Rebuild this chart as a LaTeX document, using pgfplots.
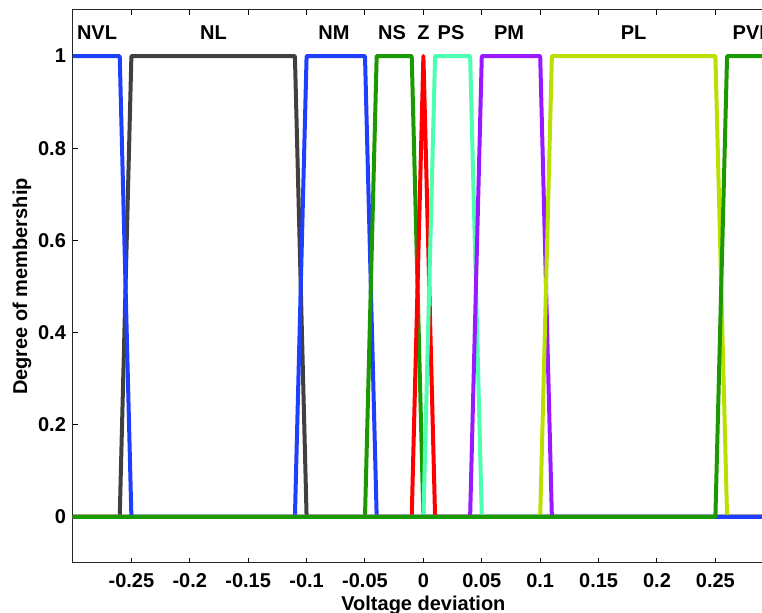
\documentclass[border=0pt]{standalone}
\usepackage{fontspec}
\setmainfont{Liberation Sans}
\usepackage{pgfplots}
\pgfplotsset{compat=1.18}
\definecolor{mfblue}{RGB}{31,63,255}
\definecolor{mfgray}{RGB}{64,64,64}
\definecolor{mfgreen}{RGB}{26,154,0}
\definecolor{mfred}{RGB}{255,0,0}
\definecolor{mfaqua}{RGB}{77,255,176}
\definecolor{mfpurple}{RGB}{154,26,255}
\definecolor{mfyellow}{RGB}{184,224,0}
\begin{document}
\fontsize{10}{12}\selectfont\bfseries
\begin{tikzpicture}
\path[use as bounding box] (-36.5pt,-25pt) rectangle (344.5pt,281.5pt);
\begin{axis}[
  at={(0,0)}, anchor=south west,
  scale only axis, width=350.4pt, height=276.5pt,
  xmin=-0.3, xmax=0.3, ymin=-0.1, ymax=1.1,
  xtick={-0.25,-0.2,-0.15,-0.1,-0.05,0,0.05,0.1,0.15,0.2,0.25},
  ytick={0,0.2,0.4,0.6,0.8,1},
  tick align=inside, major tick length=2.5pt,
  tick style={black, line width=0.5pt},
  axis line style={line width=0.5pt, black!85},
  /pgf/number format/.cd, fixed, precision=2, assume math mode=true,
  /pgfplots/.cd,
  xticklabel style={yshift=-1.5pt, font=\fontsize{10}{12}\selectfont\bfseries},
  yticklabel style={font=\fontsize{10}{12}\selectfont\bfseries},
  every axis x label/.style={at={(rel axis cs:0.5,0)}, yshift=-24pt, anchor=base},
  every axis y label/.style={at={(rel axis cs:0,0.5)}, xshift=-25.5pt, rotate=90, anchor=center},
  xlabel={Voltage deviation},
  ylabel={Degree of membership},
  label style={font=\fontsize{10}{12}\selectfont\bfseries},
  every axis plot/.append style={line width=2pt, line join=round},
]
% NL
\addplot[mfgray] coordinates {(-0.3,0) (-0.26,0) (-0.25,1) (-0.11,1) (-0.10,0) (0.3,0)};
% NM
\addplot[mfblue] coordinates {(-0.3,0) (-0.11,0) (-0.10,1) (-0.05,1) (-0.04,0) (0.3,0)};
% NS
\addplot[mfgreen] coordinates {(-0.3,0) (-0.05,0) (-0.04,1) (-0.01,1) (0,0) (0.3,0)};
% Z
\addplot[mfred] coordinates {(-0.3,0) (-0.01,0) (0,1) (0.01,0) (0.3,0)};
% PS
\addplot[mfaqua] coordinates {(-0.3,0) (0,0) (0.01,1) (0.04,1) (0.05,0) (0.3,0)};
% PM
\addplot[mfpurple] coordinates {(-0.3,0) (0.04,0) (0.05,1) (0.10,1) (0.11,0) (0.3,0)};
% PL
\addplot[mfyellow] coordinates {(-0.3,0) (0.10,0) (0.11,1) (0.25,1) (0.26,0) (0.3,0)};
% NVL
\addplot[mfblue] coordinates {(-0.3,1) (-0.26,1) (-0.25,0) (0.3,0)};
% PVL
\addplot[mfgreen] coordinates {(-0.3,0) (0.25,0) (0.26,1) (0.3,1)};
\node[anchor=base] at (axis cs:-0.2794,1.035) {NVL};
\node[anchor=base] at (axis cs:-0.1798,1.035) {NL};
\node[anchor=base] at (axis cs:-0.0765,1.035) {NM};
\node[anchor=base] at (axis cs:-0.0268,1.035) {NS};
\node[anchor=base] at (axis cs:0,1.035) {Z};
\node[anchor=base] at (axis cs:0.0237,1.035) {PS};
\node[anchor=base] at (axis cs:0.0734,1.035) {PM};
\node[anchor=base] at (axis cs:0.180,1.035) {PL};
\node[anchor=base] at (axis cs:0.2815,1.035) {PVL};
\end{axis}
\end{tikzpicture}
\end{document}
